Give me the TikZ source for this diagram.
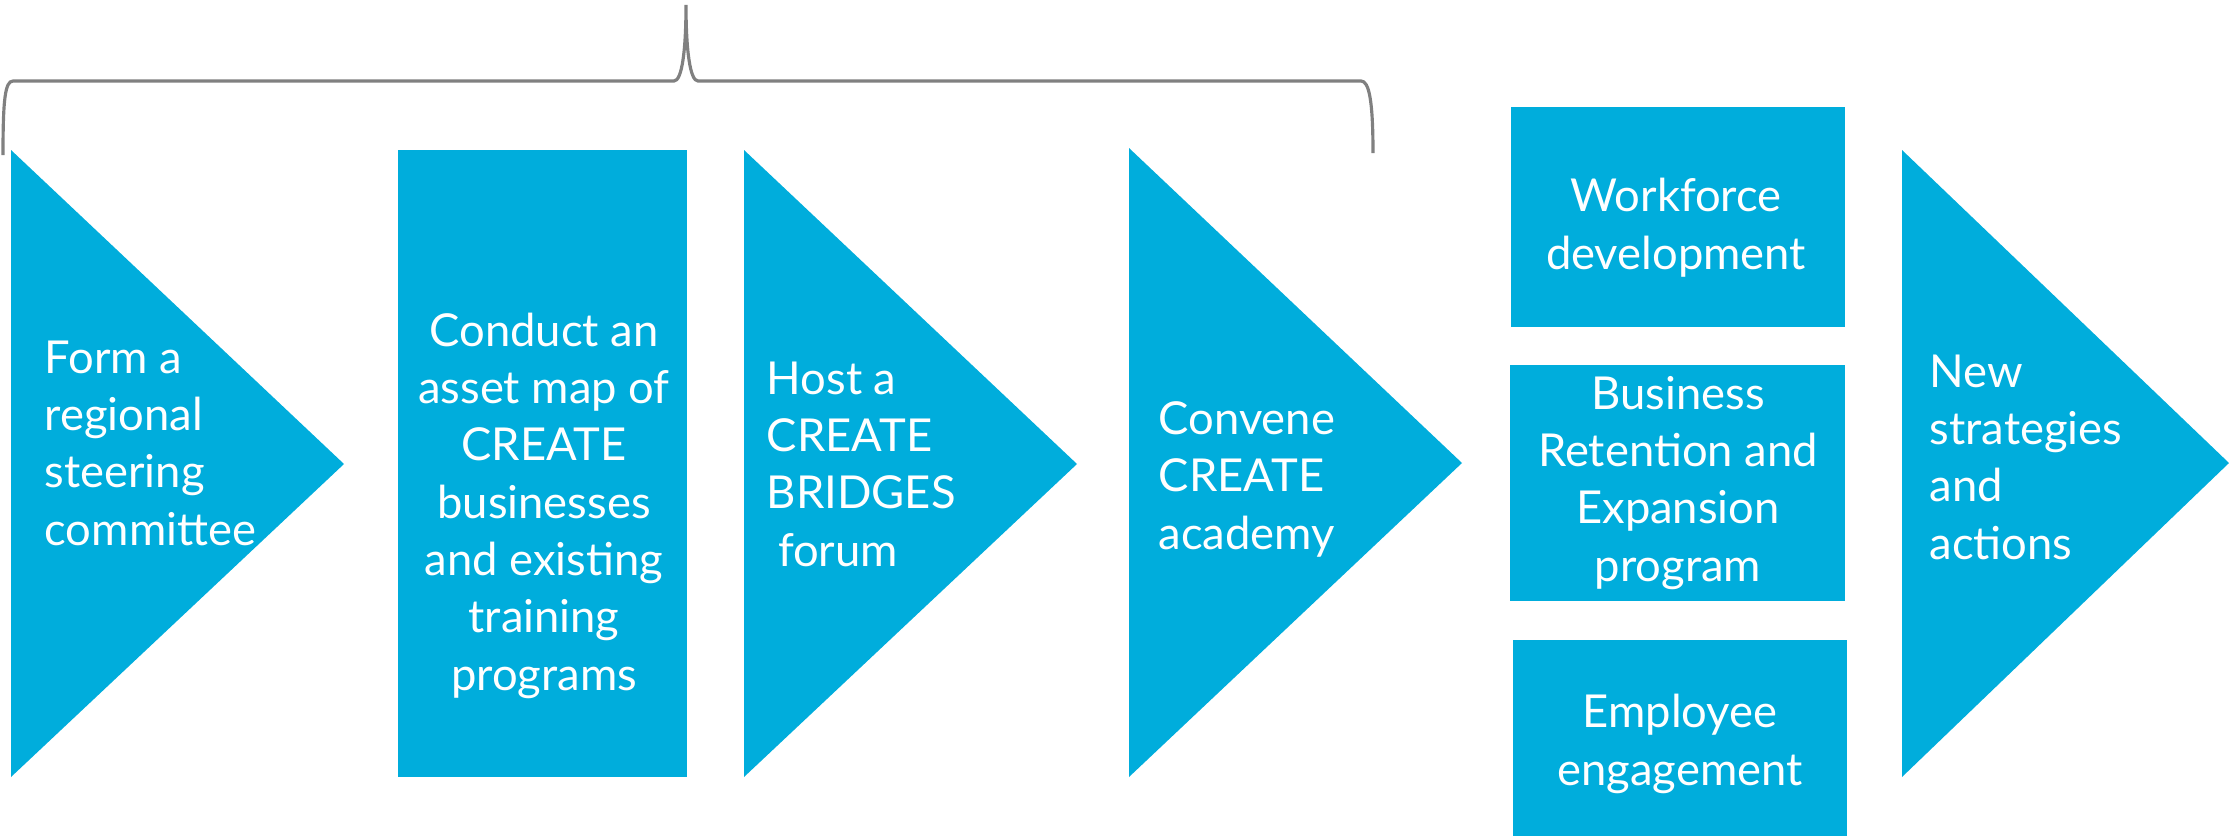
\documentclass[tikz,border=0pt]{standalone}
\usepackage{fontspec}
\setmainfont{Lato}
\definecolor{stepblue}{RGB}{0,173,220}
\definecolor{bracegray}{RGB}{128,128,128}
\newcommand{\stepfont}{\fontsize{12.9}{16.3}\selectfont}

\begin{document}
\begin{tikzpicture}[
    x=0.01cm,
    y=-0.01cm,
    chevron/.style={fill=stepblue},
    box/.style={fill=stepblue},
    steptext/.style={text=white,align=left,inner sep=0pt,anchor=base west,font=\stepfont},
    boxtext/.style={text=white,align=center,inner sep=0pt,anchor=base,font=\stepfont},
    brace/.style={draw=bracegray,line width=0.9pt}
]
\useasboundingbox (0,0) rectangle (2229,836);

% Chevrons
\fill[chevron] (11,150) -- (344,464) -- (11,777) -- cycle;
\fill[chevron] (744,150) -- (1077,464) -- (744,777) -- cycle;
\fill[chevron] (1129,148) -- (1462,463) -- (1129,777) -- cycle;
\fill[chevron] (1902,150) -- (2229,463) -- (1902,777) -- cycle;

% Boxes
\fill[box] (398,150) rectangle (687,777);
\fill[box] (1511,107) rectangle (1845,327);
\fill[box] (1510,365) rectangle (1845,601);
\fill[box] (1513,640) rectangle (1847,836);

% Labels (placed at the baseline of their last line)
\node[steptext] (form) at (44,545) {Form a\\regional\\steering\\committee};
\node[boxtext] (asset) at (544,690) {Conduct an\\asset map of\\CREATE\\businesses\\and existing\\training\\programs};
\node[steptext] (forum) at (766,566) {Host a\\CREATE\\BRIDGES\\\hspace*{0.25em}forum};
\node[steptext] (academy) at (1158,549) {Convene\\CREATE\\academy};
\node[boxtext] (workforce) at (1676,269) {Workforce\\development};
\node[boxtext] (bre) at (1678,581) {Business\\Retention and\\Expansion\\program};
\node[boxtext] (employee) at (1680,785) {Employee\\engagement};
\node[steptext] (actions) at (1929,559) {New\\strategies\\and\\actions};

% Brace over the first steps
\draw[brace] (3,155) .. controls (3,100) and (5,81) .. (13,81) -- (674,81)
  .. controls (682,81) and (686,50) .. (686,5)
  .. controls (686,50) and (690,81) .. (698,81) -- (1361,81)
  .. controls (1369,81) and (1373,100) .. (1373,153);

\end{tikzpicture}
\end{document}
